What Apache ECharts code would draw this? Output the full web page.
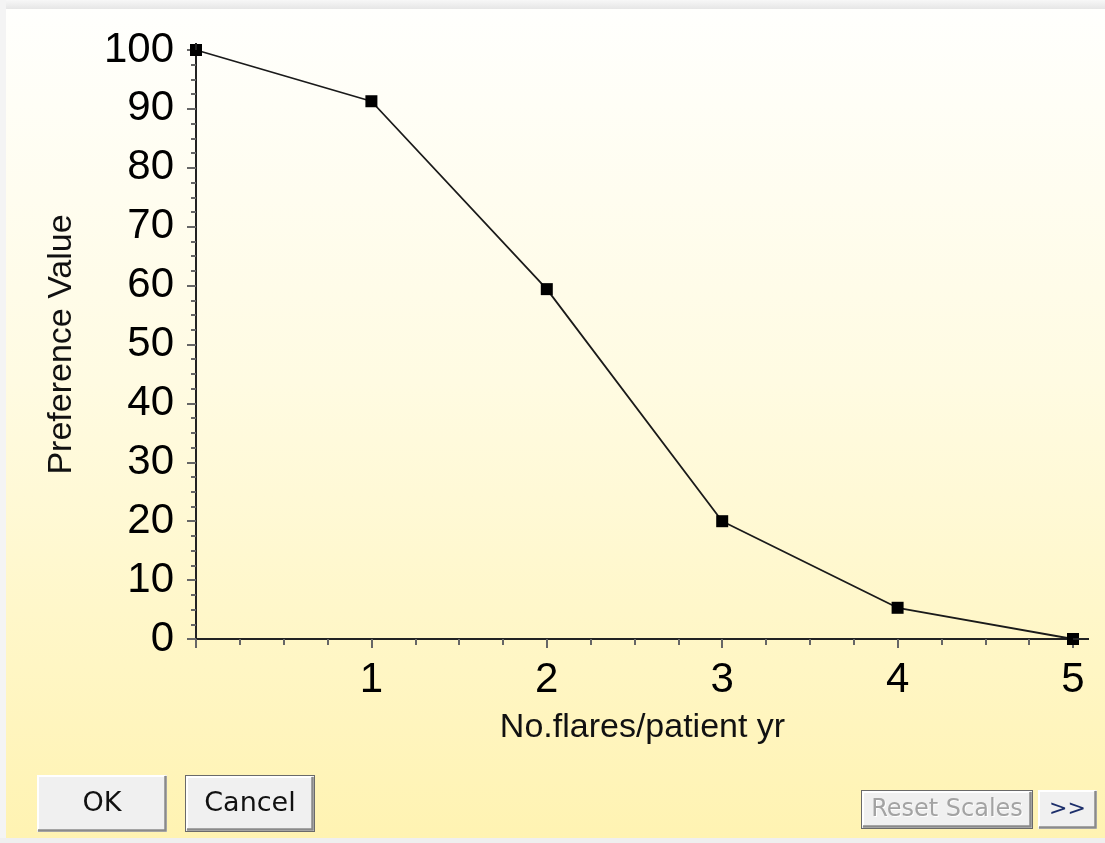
<!DOCTYPE html>
<html><head><meta charset="utf-8">
<script src="https://cdn.jsdelivr.net/npm/echarts@6/dist/echarts.min.js"></script>
<style>html,body{margin:0;padding:0;background:#f0f0f0}#c{width:1105px;height:843px}</style>
</head><body><div id="c"></div>
<script>
// ---- data ----
const flaresPerYear = [0, 1, 2, 3, 4, 5];
const preferenceValues = [100, 91.3, 59.4, 20.0, 5.3, 0];
const xAxisTitle = 'No.flares/patient yr';
const yAxisTitle = 'Preference Value';
const buttonLabels = ['OK', 'Cancel', 'Reset Scales', '>>'];

const chart = echarts.init(document.getElementById('c'), null, {renderer: 'canvas'});
const seriesData = flaresPerYear.map((x, i) => [x, preferenceValues[i]]);

function button(id, x, y, w, h, label, opts) {
  opts = opts || {};
  const children = [];
  if (opts.dark) {
    children.push({type: 'rect', shape: {x: x - 1, y: y - 1, width: w + 2, height: h + 2}, style: {fill: '#6a6a6a'}});
  }
  children.push({type: 'rect', shape: {x: x, y: y, width: w, height: h}, style: {fill: '#f0f0f0', stroke: null}});
  children.push({type: 'polyline', shape: {points: [[x + 1, y + h - 2], [x + 1, y + 1], [x + w - 2, y + 1]]}, style: {stroke: '#ffffff', lineWidth: 2, fill: null}});
  children.push({type: 'polyline', shape: {points: [[x + 1, y + h - 1.5], [x + w - 1.5, y + h - 1.5], [x + w - 1.5, y + 1]]}, style: {stroke: '#8a8a8a', lineWidth: 2.5, fill: null}});
  if (opts.disabled) {
    children.push({type: 'text', x: x + w / 2 + 1, y: y + h / 2 + 1, style: {text: label, font: (opts.size || 26) + 'px "DejaVu Sans"', fill: '#ffffff', align: 'center', verticalAlign: 'middle'}});
  }
  children.push({type: 'text', x: x + w / 2, y: y + h / 2, style: {text: label, font: (opts.size || 26) + 'px "DejaVu Sans"', fill: opts.color || '#111111', align: 'center', verticalAlign: 'middle'}});
  return {type: 'group', id: id, children: children, z: 10};
}

const option = {
  backgroundColor: 'transparent',
  animation: false,
  grid: {left: 196, right: 32, top: 50, bottom: 204, containLabel: false},
  xAxis: {
    type: 'value', min: 0, max: 5, interval: 1,
    name: xAxisTitle, nameLocation: 'middle', nameGap: 72,
    nameTextStyle: {fontFamily: 'Liberation Sans', fontSize: 34, color: '#111', padding: [0, 0, 0, 16]},
    axisLine: {show: true, onZero: false, lineStyle: {color: '#222', width: 2}},
    axisTick: {show: true, inside: false, length: 9, lineStyle: {color: '#666', width: 2}},
    minorTick: {show: true, splitNumber: 4, length: 6, lineStyle: {color: '#666', width: 2}},
    axisLabel: {showMinLabel: false, margin: 20, fontFamily: 'Liberation Sans', fontSize: 42, color: '#000'},
    splitLine: {show: false}
  },
  yAxis: {
    type: 'value', min: 0, max: 100, interval: 10,
    name: yAxisTitle, nameLocation: 'middle', nameGap: 117, nameRotate: 90,
    nameTextStyle: {fontFamily: 'Liberation Sans', fontSize: 34, color: '#111'},
    axisLine: {show: true, onZero: false, lineStyle: {color: '#222', width: 2}},
    axisTick: {show: true, inside: false, length: 9, lineStyle: {color: '#666', width: 2}},
    minorTick: {show: true, splitNumber: 4, length: 5, lineStyle: {color: '#666', width: 2}},
    axisLabel: {margin: 22, fontFamily: 'Liberation Sans', fontSize: 42, color: '#000'},
    splitLine: {show: false}
  },
  series: [{
    type: 'line',
    data: seriesData,
    clip: true,
    symbol: 'rect',
    symbolSize: 12,
    itemStyle: {color: '#000'},
    lineStyle: {color: '#1a1a1a', width: 1.8},
    z: 3
  }],
  graphic: []
};
chart.setOption(option);

// axis line extensions beyond the last tick, positioned via the library's own scales
const pEnd = chart.convertToPixel({gridIndex: 0}, [5, 0]);
const pTop = chart.convertToPixel({gridIndex: 0}, [0, 100]);

const graphics = [
  {type: 'rect', id: 'topFrame', z: -10, shape: {x: 0, y: 0, width: 1105, height: 9},
   style: {fill: new echarts.graphic.LinearGradient(0, 0, 0, 1, [{offset: 0, color: '#f7f7f7'}, {offset: 1, color: '#e6e6e6'}])}},
  {type: 'rect', id: 'leftFrame', z: -10, shape: {x: 0, y: 0, width: 6, height: 843}, style: {fill: '#f4f4f4'}},
  {type: 'rect', id: 'panel', z: -9, shape: {x: 6, y: 9, width: 1099, height: 829},
   style: {fill: new echarts.graphic.LinearGradient(0, 0, 0, 1, [{offset: 0, color: '#fffffd'}, {offset: 0.45, color: '#fffbe2'}, {offset: 1, color: '#fff3b2'}])}},
  {type: 'rect', id: 'bottomFrame', z: -9, shape: {x: 0, y: 838, width: 1105, height: 5}, style: {fill: '#efefef'}},
  {type: 'line', id: 'xExt', z: 5, shape: {x1: pEnd[0], y1: pEnd[1], x2: pEnd[0] + 16, y2: pEnd[1]}, style: {stroke: '#222', lineWidth: 2}},
  {type: 'line', id: 'yExt', z: 5, shape: {x1: pTop[0], y1: pTop[1], x2: pTop[0], y2: pTop[1] - 7}, style: {stroke: '#222', lineWidth: 2}},
  button('btnOk', 37, 775, 130, 57, buttonLabels[0], {size: 27}),
  button('btnCancel', 186, 776, 128, 55, buttonLabels[1], {size: 27, dark: true}),
  button('btnReset', 862, 791, 170, 37, buttonLabels[2], {size: 24, dark: true, disabled: true, color: '#a3a3a3'}),
  button('btnMore', 1038, 790, 59, 39, buttonLabels[3], {size: 22, color: '#1c2e6a'})
];
chart.setOption({graphic: graphics});
</script>
</body></html>
